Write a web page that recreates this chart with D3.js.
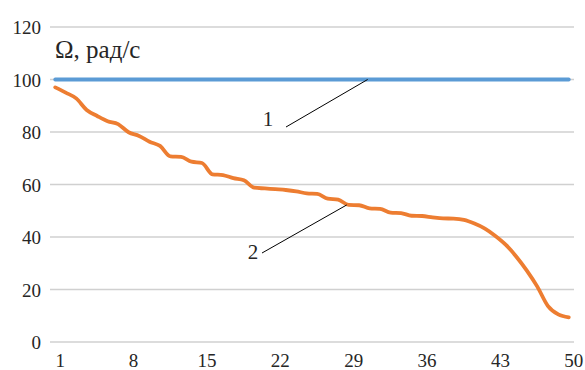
<!DOCTYPE html>
<html>
<head>
<meta charset="utf-8">
<script src="https://cdn.jsdelivr.net/npm/d3@7"></script>
<style>
  html, body { margin: 0; padding: 0; background: #fff; }
  svg { display: block; }
</style>
</head>
<body>
<svg id="chart" width="585" height="370"></svg>
<script>
// Categories 1..50 on the horizontal axis
const categories = [1,2,3,4,5,6,7,8,9,10,11,12,13,14,15,16,17,18,19,20,
                    21,22,23,24,25,26,27,28,29,30,31,32,33,34,35,36,37,38,39,40,
                    41,42,43,44,45,46,47,48,49,50];

// Series 1: angular velocity of the idle shaft, rad/s
const series1 = [100,100,100,100,100,100,100,100,100,100,
                 100,100,100,100,100,100,100,100,100,100,
                 100,100,100,100,100,100,100,100,100,100,
                 100,100,100,100,100,100,100,100,100,100,
                 100,100,100,100,100,100,100,100,100,100];

// Series 2: angular velocity under load, rad/s
const series2 = [97.0,95.0,92.8,88.4,86.1,84.1,83.0,79.9,78.5,76.3,
                 74.7,70.7,70.5,68.7,68.2,63.9,63.6,62.4,61.6,58.8,
                 58.5,58.2,57.9,57.4,56.6,56.4,54.6,54.2,52.2,52.1,
                 50.9,50.7,49.3,49.1,48.1,48.0,47.5,47.1,47.0,46.5,
                 45.1,43.2,40.4,37.0,32.5,27.2,21.1,13.8,10.5,9.4];

const xTickLabels = [1,8,15,22,29,36,43,50];
const yTicks = [0,20,40,60,80,100,120];
const yTitle = "Ω, рад/с";

const FONT = '"Liberation Serif"';
const TEXT_COLOR = "#262626";

const svg = d3.select("#chart");
const plot = { left: 50, right: 574, top: 27, bottom: 342 };

const x = d3.scaleBand()
  .domain(categories)
  .range([plot.left, plot.right])
  .paddingInner(0).paddingOuter(0);
const xc = d => x(d) + x.bandwidth() / 2;

const y = d3.scaleLinear()
  .domain([0, 120])
  .range([plot.bottom, plot.top]);

// Horizontal gridlines (the 0 line doubles as the category axis)
svg.append("g")
  .selectAll("line")
  .data(yTicks)
  .join("line")
  .attr("x1", plot.left).attr("x2", plot.right)
  .attr("y1", d => y(d)).attr("y2", d => y(d))
  .attr("stroke", "#d0d0d0")
  .attr("stroke-width", 1.4);

// Value axis labels
const yAxis = d3.axisLeft(y).tickValues(yTicks).tickSize(0).tickPadding(0);
const gy = svg.append("g")
  .attr("transform", `translate(${plot.left - 9},0)`)
  .call(yAxis);
gy.select(".domain").remove();
gy.selectAll("text")
  .style("font-family", FONT)
  .style("font-size", "19px")
  .attr("fill", TEXT_COLOR)
  .attr("dy", "0.35em");

// Category axis labels, every 7th category
const xAxis = d3.axisBottom(x).tickValues(xTickLabels).tickSize(0).tickPadding(0);
const gx = svg.append("g")
  .attr("transform", `translate(5,${plot.bottom})`)
  .call(xAxis);
gx.select(".domain").remove();
gx.selectAll("text")
  .style("font-family", FONT)
  .style("font-size", "19px")
  .attr("fill", TEXT_COLOR)
  .attr("y", 25)
  .attr("dy", 0);

// Data lines
const line = d3.line()
  .x((d, i) => xc(categories[i]))
  .y(d => y(d))
  .curve(d3.curveMonotoneX);

svg.append("path")
  .datum(series1)
  .attr("d", line)
  .attr("fill", "none")
  .attr("stroke", "#5b9bd5")
  .attr("stroke-width", 3.8)
  .attr("stroke-linecap", "round");

svg.append("path")
  .datum(series2)
  .attr("d", line)
  .attr("fill", "none")
  .attr("stroke", "#ed7d31")
  .attr("stroke-width", 3.8)
  .attr("stroke-linecap", "round")
  .attr("stroke-linejoin", "round");

// Axis title inside the plot
svg.append("text")
  .attr("x", 55).attr("y", 58)
  .style("font-family", FONT)
  .style("font-size", "25px")
  .attr("fill", TEXT_COLOR)
  .text(yTitle);

// Series callouts with leader lines
const callouts = [
  { label: "1", cat: 31, series: series1, tx: 268, ty: 126, lx: 286, ly: 127 },
  { label: "2", cat: 29, series: series2, tx: 253, ty: 259, lx: 262, ly: 253 }
];
callouts.forEach(c => {
  const v = c.series[categories.indexOf(c.cat)];
  svg.append("line")
    .attr("x1", c.lx).attr("y1", c.ly)
    .attr("x2", xc(c.cat) - 2).attr("y2", y(v))
    .attr("stroke", "#000").attr("stroke-width", 1);
  svg.append("text")
    .attr("x", c.tx).attr("y", c.ty)
    .attr("text-anchor", "middle")
    .style("font-family", FONT)
    .style("font-size", "21px")
    .attr("fill", TEXT_COLOR)
    .text(c.label);
});
</script>
</body>
</html>
